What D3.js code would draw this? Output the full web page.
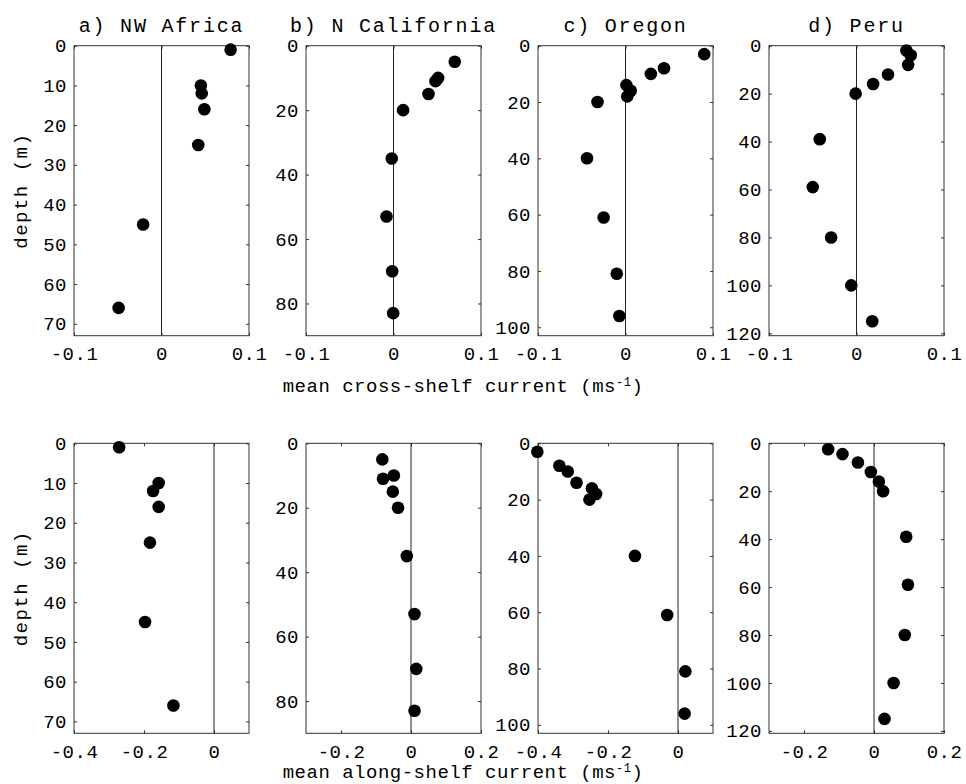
<!DOCTYPE html>
<html>
<head>
<meta charset="utf-8">
<script src="https://cdn.jsdelivr.net/npm/d3@7"></script>
<style>
  body { margin: 0; background: #fff; }
  text { font-family: "Courier New", "Liberation Mono", monospace; fill: #000; }
</style>
</head>
<body>
<div id="chart"></div>
<script>
var svgWidth = 966;
var svgHeight = 784;

// panel titles
var titles = ["a) NW Africa", "b) N California", "c) Oregon", "d) Peru"];

// depths (m) for each site
var depthAfrica = [1, 10, 12, 16, 25, 45, 66];
var depthCalifornia = [5, 10, 11, 15, 20, 35, 53, 70, 83];
var depthOregon = [3, 8, 10, 14, 16, 18, 20, 40, 61, 81, 96];
var depthPeru = [2, 4, 8, 12, 16, 20, 39, 59, 80, 100, 115];
var depthPeruAlong = [2.5, 4.5, 8, 12, 16, 20, 39, 59, 80, 100, 115];

// mean cross-shelf current (m/s)
var crossAfrica = [0.079, 0.045, 0.046, 0.049, 0.042, -0.021, -0.049];
var crossCalifornia = [0.070, 0.051, 0.048, 0.040, 0.011, -0.002, -0.008, -0.0015, -0.0004];
var crossOregon = [0.090, 0.044, 0.029, 0.001, 0.006, 0.002, -0.032, -0.044, -0.025, -0.010, -0.007];
var crossPeru = [0.057, 0.062, 0.059, 0.036, 0.019, -0.001, -0.042, -0.050, -0.029, -0.006, 0.018];

// mean along-shelf current (m/s)
var alongAfrica = [-0.271, -0.158, -0.174, -0.158, -0.183, -0.197, -0.116];
var alongCalifornia = [-0.082, -0.049, -0.080, -0.052, -0.037, -0.012, 0.010, 0.015, 0.010];
var alongOregon = [-0.402, -0.339, -0.315, -0.290, -0.246, -0.234, -0.253, -0.123, -0.031, 0.021, 0.019];
var alongPeru = [-0.131, -0.090, -0.046, -0.009, 0.014, 0.026, 0.092, 0.097, 0.088, 0.056, 0.030];

// axis limits and ticks
var depthMax = [73, 90, 103, 121];
var depthTicks = [
  [0, 10, 20, 30, 40, 50, 60, 70],
  [0, 20, 40, 60, 80],
  [0, 20, 40, 60, 80, 100],
  [0, 20, 40, 60, 80, 100, 120]
];
var crossDomain = [[-0.1, 0.1], [-0.1, 0.1], [-0.1, 0.1], [-0.1, 0.1]];
var crossTicks = [-0.1, 0, 0.1];
var alongDomain = [[-0.4, 0.1], [-0.3, 0.2], [-0.4, 0.1], [-0.3, 0.2]];
var alongTicks = [[-0.4, -0.2, 0], [-0.2, 0, 0.2], [-0.4, -0.2, 0], [-0.2, 0, 0.2]];

var depths = [depthAfrica, depthCalifornia, depthOregon, depthPeru];
var depthsAlong = [depthAfrica, depthCalifornia, depthOregon, depthPeruAlong];
var crossValues = [crossAfrica, crossCalifornia, crossOregon, crossPeru];
var alongValues = [alongAfrica, alongCalifornia, alongOregon, alongPeru];

// layout of the boxes
var colLeft = [74, 306, 538, 769];
var boxWidth = 175;
var rowTop = [45.7, 443.3];
var boxHeight = 290;

var svg = d3.select("#chart")
  .append("svg")
  .attr("width", svgWidth)
  .attr("height", svgHeight);

// matlab style labels, plain hyphen for minus
function tickFormat(d) {
  return d === 0 ? "0" : d3.format(".1f")(d).replace("\u2212", "-");
}

function drawPanel(row, col, xDomain, xTicks, vals, deps) {
  var g = svg.append("g")
    .attr("transform", `translate(${colLeft[col]}, ${rowTop[row]})`);

  var x = d3.scaleLinear().domain(xDomain).range([0, boxWidth]);
  var y = d3.scaleLinear().domain([0, depthMax[col]]).range([0, boxHeight]);

  // zero line
  g.append("line")
    .attr("x1", x(0)).attr("x2", x(0))
    .attr("y1", 0).attr("y2", boxHeight)
    .attr("stroke", "#222")
    .attr("stroke-width", 1);

  var left = g.append("g")
    .call(d3.axisLeft(y).tickValues(depthTicks[col]).tickSizeInner(-3).tickSizeOuter(0).tickPadding(7));
  var right = g.append("g")
    .attr("transform", `translate(${boxWidth}, 0)`)
    .call(d3.axisRight(y).tickValues(depthTicks[col]).tickSizeInner(-3).tickSizeOuter(0).tickFormat(""));
  var bottom = g.append("g")
    .attr("transform", `translate(0, ${boxHeight})`)
    .call(d3.axisBottom(x).tickValues(xTicks).tickSizeInner(-3).tickSizeOuter(0).tickPadding(11).tickFormat(tickFormat));
  var top = g.append("g")
    .call(d3.axisTop(x).tickValues(xTicks).tickSizeInner(-3).tickSizeOuter(0).tickFormat(""));

  [left, right, bottom, top].forEach(function(a) {
    a.select(".domain").remove();
    a.selectAll("line").attr("stroke", "#333");
    a.selectAll("text")
      .attr("font-family", "'Courier New', 'Liberation Mono', monospace")
      .attr("font-size", "19px")
      .attr("letter-spacing", "0.5px")
      .attr("fill", "#000");
  });

  // box
  g.append("rect")
    .attr("width", boxWidth)
    .attr("height", boxHeight)
    .attr("fill", "none")
    .attr("stroke", "#333")
    .attr("stroke-width", 1);

  g.selectAll("circle")
    .data(vals)
    .enter()
    .append("circle")
    .attr("cx", (d, i) => x(d))
    .attr("cy", (d, i) => y(deps[i]))
    .attr("r", 6.3)
    .attr("fill", "#000");

  return g;
}

for (var c = 0; c < 4; c++) {
  var gTop = drawPanel(0, c, crossDomain[c], crossTicks, crossValues[c], depths[c]);
  gTop.append("text")
    .attr("x", boxWidth / 2)
    .attr("y", 32 - rowTop[0])
    .attr("text-anchor", "middle")
    .attr("font-size", "20px")
    .attr("letter-spacing", "1.8px")
    .text(titles[c]);
  drawPanel(1, c, alongDomain[c], alongTicks[c], alongValues[c], depthsAlong[c]);
}

// y labels
[rowTop[0], rowTop[1]].forEach(function(t) {
  svg.append("text")
    .attr("transform", `translate(27, ${t + boxHeight / 2}) rotate(-90)`)
    .attr("text-anchor", "middle")
    .attr("font-size", "19px")
    .attr("letter-spacing", "1.5px")
    .text("depth (m)");
});

// x labels
function xLabel(label, yPos) {
  var t = svg.append("text")
    .attr("x", 463)
    .attr("y", yPos)
    .attr("text-anchor", "middle")
    .attr("font-size", "19px")
    .attr("letter-spacing", "0.5px");
  t.append("tspan").text(label + " (ms");
  t.append("tspan").attr("dy", -6).attr("font-size", "12px").text("-1");
  t.append("tspan").attr("dy", 6).text(")");
}
xLabel("mean cross-shelf current", 392);
xLabel("mean along-shelf current", 778);
</script>
</body>
</html>
